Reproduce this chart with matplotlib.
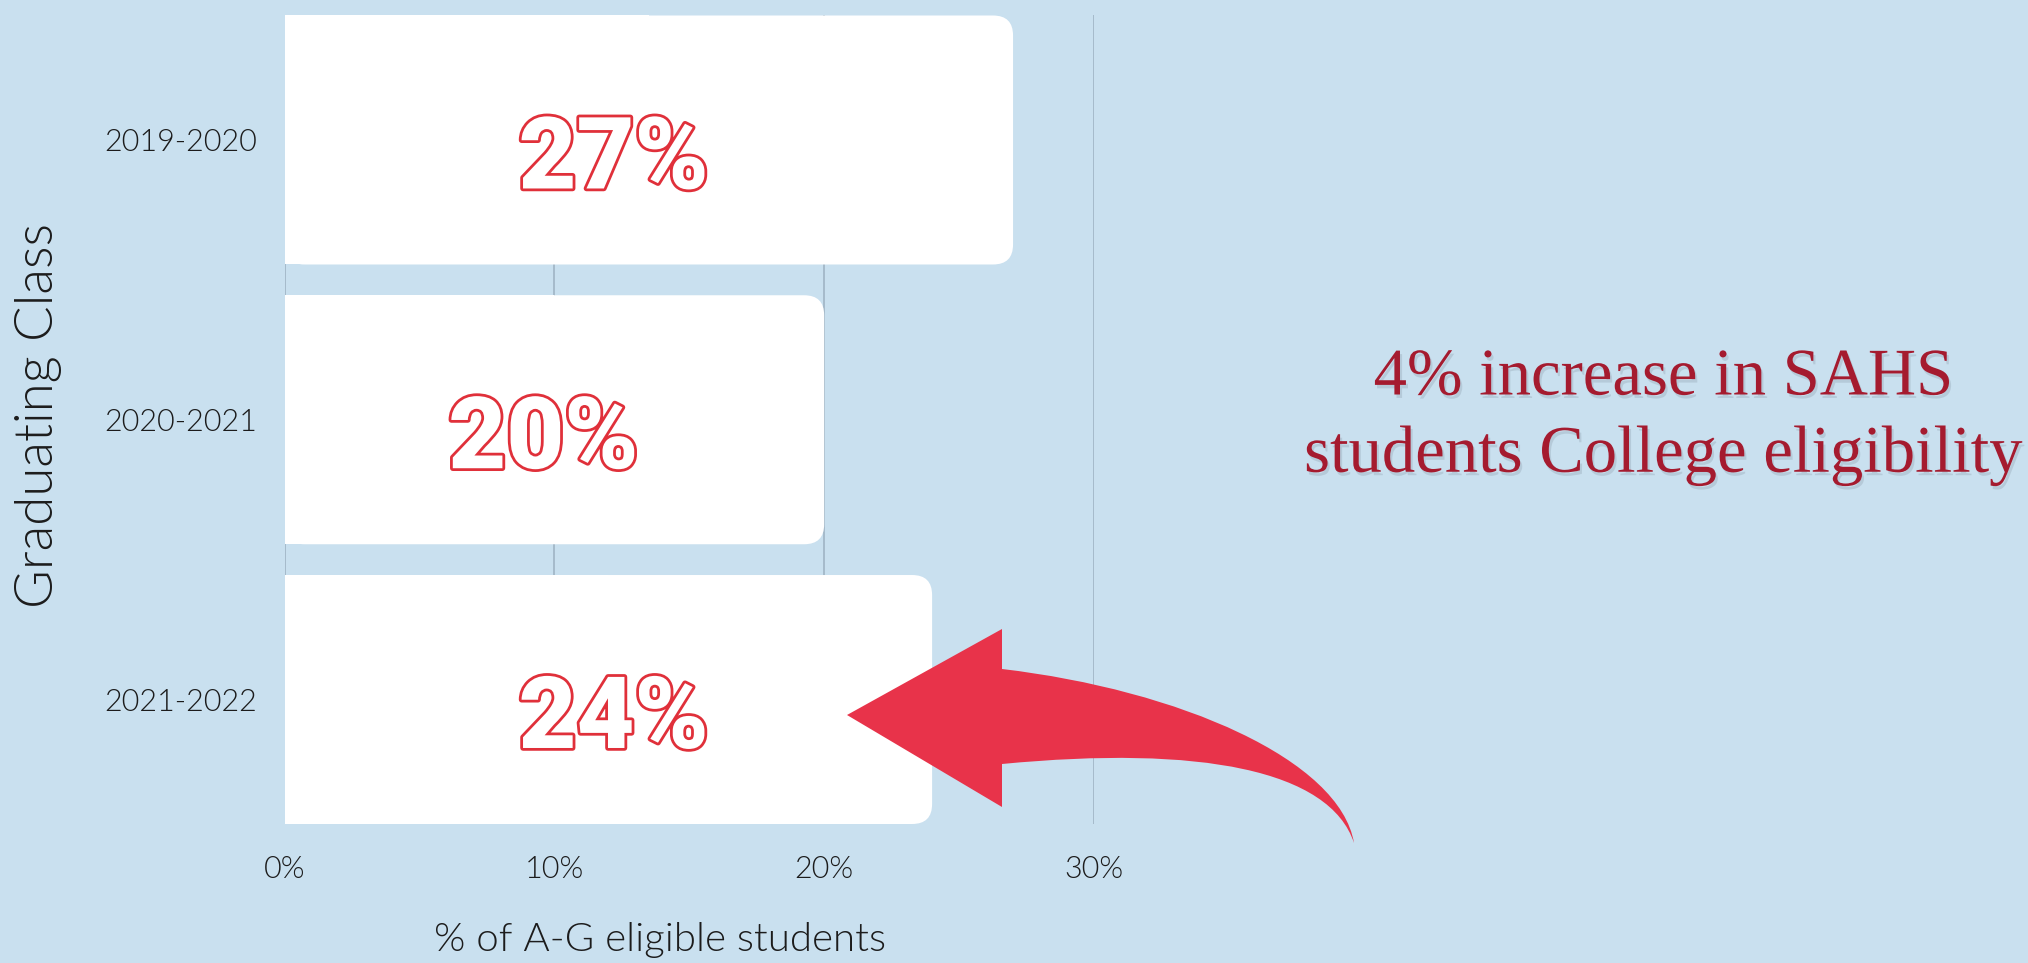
import matplotlib
matplotlib.use("Agg")
import matplotlib.pyplot as plt
import matplotlib.patheffects as pe
from matplotlib.patches import FancyBboxPatch, Rectangle, PathPatch
from matplotlib.path import Path

# ---- data ----
categories = ["2019-2020", "2020-2021", "2021-2022"]
values = [27, 20, 24]
value_labels = ["27%", "20%", "24%"]
xticks = [0, 10, 20, 30]
xtick_labels = ["0%", "10%", "20%", "30%"]
annotation_lines = ["4% increase in SAHS", "students College eligibility"]

# ---- layout ----
label_x = [12.2, 9.6, 12.2]
BG = "#c9e0ef"
RED_OUT = "#e0303a"
ARROW = "#e8334a"
NOTE = "#a51b2f"
GRID = "#a3b8c8"
TXT = "#1c1c1c"
THIN = "Lato"
THIN_W = 300

W, H = 2028, 963
fig = plt.figure(figsize=(W / 100, H / 100), dpi=100, facecolor=BG)
ax = fig.add_axes([284.5 / W, 1 - 824 / H, (1094 - 284.5) / W, (824 - 15.5) / H])
ax.set_facecolor(BG)

bh = 0.89
ypos = list(range(len(categories)))
bars = ax.barh(ypos, values, height=bh, color="white", zorder=2)
ax.set_xlim(0, 30)
ax.set_ylim(len(categories) - 1 + bh / 2, -bh / 2)

# replace bars with right-rounded versions
px_per_x = (1094 - 284.5) / 30
px_per_y = (824 - 15.5) / (len(categories) - 1 + bh)
r_px = 20
for b in bars:
    x0, y0 = b.get_x(), b.get_y()
    w, h = b.get_width(), b.get_height()
    b.set_visible(False)
    r = r_px / px_per_x
    p = FancyBboxPatch((x0, y0), w, h,
                       boxstyle=f"round,pad=0,rounding_size={r}",
                       mutation_aspect=px_per_x / px_per_y,
                       fc="white", ec="none", zorder=2)
    ax.add_patch(p)
    ax.add_patch(Rectangle((x0, y0), w / 2, h, fc="white", ec="none", zorder=2))

for y, lab, lx in zip(ypos, value_labels, label_x):
    t = ax.text(lx, y + 0.075, lab, ha="center", va="center", fontsize=72,
                family=["Roboto", "DejaVu Sans"], weight="black", color="white", zorder=3)
    t.set_path_effects([pe.Stroke(linewidth=4, foreground=RED_OUT), pe.Normal()])

ax.set_xticks(xticks)
ax.set_xticklabels(xtick_labels)
ax.set_yticks(ypos)
ax.set_yticklabels(categories)
ax.tick_params(length=0, labelsize=22, labelcolor=TXT)
ax.tick_params(axis="x", pad=22)
ax.tick_params(axis="y", pad=20)
for lab in ax.get_xticklabels() + ax.get_yticklabels():
    lab.set_family(THIN)
    lab.set_weight(THIN_W)
ax.grid(axis="x", color=GRID, linewidth=1.3, zorder=0)
ax.grid(axis="y", visible=False)
ax.set_axisbelow(True)
for s in ax.spines.values():
    s.set_visible(False)

fig.text(39 / W, 1 - 415 / H, "Graduating Class", rotation=90, ha="center", va="center",
         fontsize=38, family=THIN, weight=THIN_W, color=TXT)
fig.text(660 / W, 1 - 940 / H, "% of A-G eligible students", ha="center", va="center",
         fontsize=29, family=THIN, weight=THIN_W, color=TXT)

for i, line in enumerate(annotation_lines):
    t = fig.text(1663 / W, 1 - (378 + 77 * i) / H, line, ha="center", va="center",
                 fontsize=48, family=["Liberation Serif", "DejaVu Serif"], color=NOTE)
    t.set_path_effects([pe.withSimplePatchShadow(offset=(1.5, -2.5), shadow_rgbFace="#8a9aa8", alpha=0.3)])

# curved arrow (decoration), in figure pixel coordinates
def fp(x, y):
    return (x / W, 1 - y / H)

verts = [fp(847, 715), fp(1002, 629), fp(1002, 669),
         fp(1180, 690), fp(1340, 760), fp(1354, 843),
         fp(1330, 770), fp(1200, 745), fp(1002, 764),
         fp(1002, 807), fp(847, 715)]
codes = [Path.MOVETO, Path.LINETO, Path.LINETO,
         Path.CURVE4, Path.CURVE4, Path.CURVE4,
         Path.CURVE4, Path.CURVE4, Path.CURVE4,
         Path.LINETO, Path.CLOSEPOLY]
fig.patches.append(PathPatch(Path(verts, codes), transform=fig.transFigure,
                             fc=ARROW, ec="none", zorder=5))

fig.savefig("out.png", dpi=100, facecolor=BG)
